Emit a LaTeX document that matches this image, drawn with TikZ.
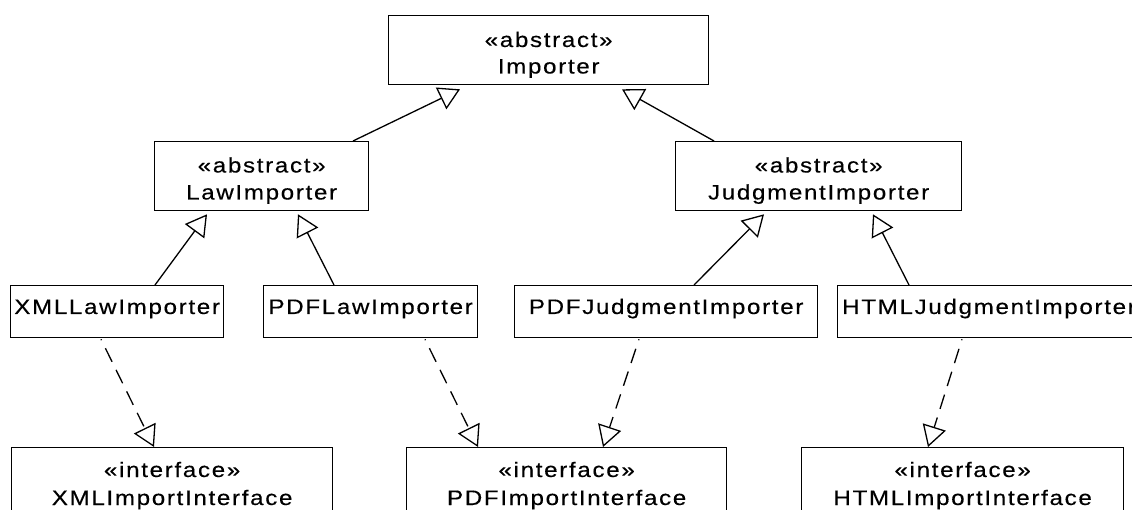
\documentclass[tikz,border=0pt]{standalone}
\usepackage{fontspec}
\setmainfont{Liberation Sans}[FakeStretch=1.15, LetterSpace=8, FakeBold=0.3]
\usetikzlibrary{arrows.meta,calc}
\begin{document}
\begin{tikzpicture}[x=1pt,y=-1pt,
  umlbox/.style={draw, line width=1.3pt, fill=white, inner sep=0pt, anchor=north west},
  umltext/.style={inner sep=0pt, anchor=base, font=\fontsize{21pt}{27pt}\selectfont},
  inherit/.style={line width=1.3pt, -{Triangle[open,length=21pt,width=24pt]}},
  realize/.style={inherit, dash pattern=on 15pt off 9pt, dash phase=14pt},
]
\useasboundingbox (0,0) rectangle (1132,510);
\fill[white] (0,0) rectangle (1132,510);
\clip (0,0) rectangle (1132,510);

% class boxes
\node[umlbox, minimum width=320pt, minimum height=69pt] (imp)   at (388,15)  {};
\node[umlbox, minimum width=214pt, minimum height=69pt] (law)   at (154,141) {};
\node[umlbox, minimum width=286pt, minimum height=69pt] (jud)   at (675,141) {};
\node[umlbox, minimum width=213pt, minimum height=52pt] (xmll)  at (10,285)  {};
\node[umlbox, minimum width=214pt, minimum height=52pt] (pdfl)  at (263,285) {};
\node[umlbox, minimum width=303pt, minimum height=52pt] (pdfj)  at (514,285) {};
\node[umlbox, minimum width=320pt, minimum height=52pt] (htmlj) at (837,285) {};
\node[umlbox, minimum width=321pt, minimum height=90pt] (xmli)  at (11,447)  {};
\node[umlbox, minimum width=320pt, minimum height=90pt] (pdfi)  at (406,447) {};
\node[umlbox, minimum width=322pt, minimum height=90pt] (htmli) at (801,447) {};

% class names and stereotypes
\node[umltext] (impS) at ($(imp.north)+(0,32)$) {«abstract»};
\node[umltext] (impN) at ($(imp.north)+(0,58.5)$) {Importer};
\node[umltext] (lawS) at ($(law.north)+(0,31.5)$) {«abstract»};
\node[umltext] (lawN) at ($(law.north)+(0,58.5)$) {LawImporter};
\node[umltext] (judS) at ($(jud.north)+(0,31.5)$) {«abstract»};
\node[umltext] (judN) at ($(jud.north)+(0,58.5)$) {JudgmentImporter};
\node[umltext] (xmllN) at ($(xmll.north)+(0,29)$) {XMLLawImporter};
\node[umltext] (pdflN) at ($(pdfl.north)+(0,29)$) {PDFLawImporter};
\node[umltext] (pdfjN) at ($(pdfj.north)+(0,29)$) {PDFJudgmentImporter};
\node[umltext, anchor=base west] (htmljN) at ($(htmlj.north west)+(5,29)$) {HTMLJudgmentImporter};
\node[umltext] (xmliS) at ($(xmli.north)+(0,30)$) {«interface»};
\node[umltext] (xmliN) at ($(xmli.north)+(0,58)$) {XMLImportInterface};
\node[umltext] (pdfiS) at ($(pdfi.north)+(0,30)$) {«interface»};
\node[umltext] (pdfiN) at ($(pdfi.north)+(0,58)$) {PDFImportInterface};
\node[umltext] (htmliS) at ($(htmli.north)+(0,30)$) {«interface»};
\node[umltext] (htmliN) at ($(htmli.north)+(0,58)$) {HTMLImportInterface};

% generalizations
\draw[inherit] ($(law.north west)+(199,0)$) -- ($(imp.south west)+(72,4)$);
\draw[inherit] ($(jud.north west)+(39,0)$)  -- ($(imp.south west)+(234,4)$);
\draw[inherit] ($(xmll.north west)+(145,0)$) -- ($(law.south west)+(53,3)$);
\draw[inherit] ($(pdfl.north west)+(71,0)$)  -- ($(law.south west)+(144,3)$);
\draw[inherit] ($(pdfj.north west)+(180,0)$) -- ($(jud.south west)+(89,3)$);
\draw[inherit] ($(htmlj.north west)+(72,0)$) -- ($(jud.south west)+(198,3)$);

% interface realizations
\draw[realize] ($(xmll.south west)+(91,1)$)  -- ($(xmli.north west)+(143,0)$);
\draw[realize] ($(pdfl.south west)+(162,1)$) -- ($(pdfi.north west)+(72,0)$);
\draw[realize] ($(pdfj.south west)+(125,1)$) -- ($(pdfi.north west)+(197,0)$);
\draw[realize] ($(htmlj.south west)+(125,1)$) -- ($(htmli.north west)+(127,0)$);
\end{tikzpicture}
\end{document}
